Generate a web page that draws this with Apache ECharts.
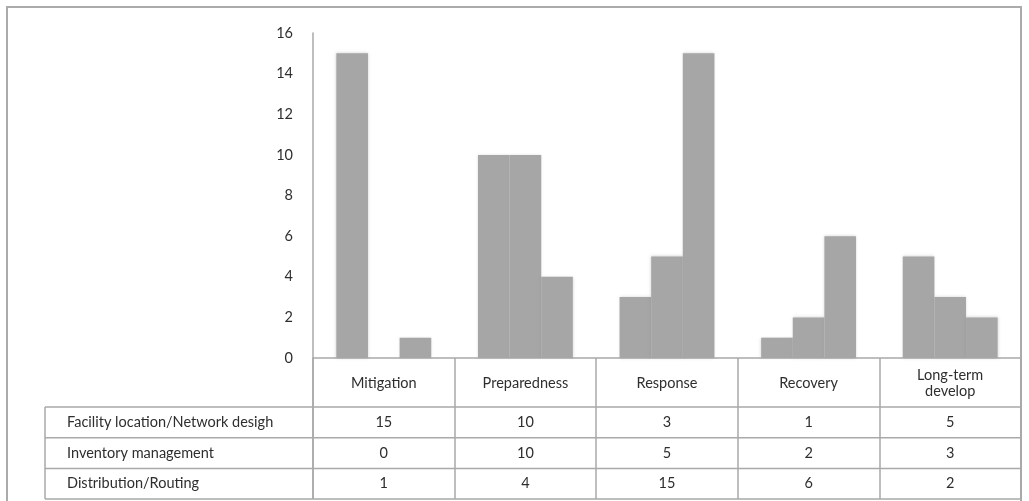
<!DOCTYPE html>
<html>
<head>
<meta charset="utf-8">
<script src="https://cdn.jsdelivr.net/npm/echarts@6/dist/echarts.min.js"></script>
<style>
  html, body { margin: 0; padding: 0; background: #fff; }
  #chart { width: 1029px; height: 501px; }
</style>
</head>
<body>
<div id="chart"></div>
<script>
// Disaster phases (columns) and the three research themes (rows)
const categories = ['Mitigation', 'Preparedness', 'Response', 'Recovery', 'Long-term\ndevelop'];
const seriesNames = ['Facility location/Network desigh', 'Inventory management', 'Distribution/Routing'];
const facilityLocation = [15, 10, 3, 1, 5];
const inventoryManagement = [0, 10, 5, 2, 3];
const distributionRouting = [1, 4, 15, 6, 2];
const yMin = 0, yMax = 16, yStep = 2;

const seriesValues = [facilityLocation, inventoryManagement, distributionRouting];

const FONT = 'Lato, "Open Sans", sans-serif';
const FONT_SIZE = 14.5;
const TEXT = '#2e2e2e';
const LINE = '#a9a9a9';
const BAR = '#a6a6a6';

const chart = echarts.init(document.getElementById('chart'), null, { renderer: 'canvas' });

// table geometry below the x axis
const headerH = 49;
const rowH = 30.7;
const tableLeft = 45;
const tableDepth = headerH + rowH * 3;

const option = {
  animation: false,
  backgroundColor: '#fff',
  grid: { left: 313, right: 8, top: 33, bottom: 143 },
  xAxis: {
    type: 'category',
    data: categories,
    boundaryGap: true,
    axisLine: { show: true, lineStyle: { color: LINE, width: 1.5 } },
    axisTick: { show: true, interval: 0, length: tableDepth, lineStyle: { color: LINE, width: 1.5 } },
    axisLabel: { show: false }
  },
  yAxis: {
    type: 'value',
    min: yMin, max: yMax, interval: yStep,
    axisLine: { show: true, lineStyle: { color: LINE, width: 1.5 } },
    axisTick: { show: false },
    splitLine: { show: false },
    axisLabel: { margin: 20, color: TEXT, fontFamily: FONT, fontSize: FONT_SIZE }
  },
  series: seriesValues.map((vals, i) => ({
    name: seriesNames[i],
    type: 'bar',
    data: vals,
    barGap: '0%',
    barCategoryGap: '33%',
    itemStyle: {
      color: BAR,
      shadowBlur: 3,
      shadowColor: 'rgba(140,140,140,0.4)'
    }
  }))
};

chart.setOption(option);

// Data table drawn beneath the plot, positioned from the axis scales
function buildTable() {
  const px = (i) => chart.convertToPixel({ xAxisIndex: 0 }, i);
  const y0 = chart.convertToPixel({ yAxisIndex: 0 }, 0);
  const step = px(1) - px(0);
  const xLeft = px(0) - step / 2;
  const xRight = xLeft + step * categories.length;
  const bottom = y0 + tableDepth;
  const font = FONT_SIZE + 'px ' + FONT;
  const els = [];

  // outer frame
  els.push({ type: 'rect', silent: true, shape: { x: 7, y: 7, width: xRight - 7, height: 520 },
    style: { fill: 'none', stroke: '#ababab', lineWidth: 2 } });
  // y axis continues down through the table
  els.push({ type: 'line', shape: { x1: xLeft, y1: y0, x2: xLeft, y2: bottom },
    style: { stroke: LINE, lineWidth: 1.5 } });
  // row separators
  for (let r = 0; r <= 3; r++) {
    const y = y0 + headerH + r * rowH;
    els.push({ type: 'line', shape: { x1: tableLeft, y1: y, x2: xRight, y2: y },
      style: { stroke: LINE, lineWidth: 1.5 } });
  }
  els.push({ type: 'line', shape: { x1: tableLeft, y1: y0 + headerH, x2: tableLeft, y2: bottom },
    style: { stroke: LINE, lineWidth: 1.5 } });

  // header row: phase names
  categories.forEach((c, i) => {
    els.push({ type: 'text', style: { text: c, x: px(i), y: y0 + headerH / 2 + 1, align: 'center', verticalAlign: 'middle',
      fill: TEXT, font: font, lineHeight: 16 } });
  });
  // row labels and values
  seriesValues.forEach((vals, r) => {
    const cy = y0 + headerH + r * rowH + rowH / 2;
    els.push({ type: 'text', style: { text: seriesNames[r], x: 67, y: cy, align: 'left', verticalAlign: 'middle',
      fill: TEXT, font: font } });
    vals.forEach((v, i) => {
      els.push({ type: 'text', style: { text: String(v), x: px(i), y: cy, align: 'center', verticalAlign: 'middle',
        fill: TEXT, font: font } });
    });
  });

  chart.setOption({ graphic: { elements: els } });
}

buildTable();
</script>
</body>
</html>
